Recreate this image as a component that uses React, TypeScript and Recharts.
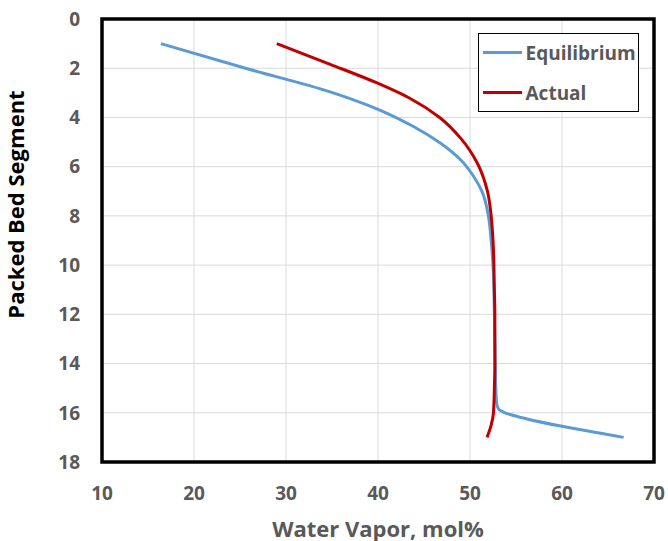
import { LineChart, Line, XAxis, YAxis, CartesianGrid, Legend, ReferenceArea } from 'recharts';

// packed bed segment (y) vs water vapor mol% (x)
const equilibriumSeg = [1, 2, 2.96, 3.67, 4.38, 5.05, 5.73, 6.4, 7, 8, 9, 10, 11, 12, 13, 14, 15, 15.6, 15.85, 16, 16.25, 16.55, 17];
const equilibriumVapor = [16.4, 25.6, 34.8, 40.0, 43.9, 46.8, 49.0, 50.4, 51.3, 52.0, 52.3, 52.5, 52.6, 52.65, 52.7, 52.75, 52.8, 52.9, 53.1, 53.8, 56.2, 60.0, 66.7];

const actualSeg = [1, 1.84, 2.6, 3.23, 4, 4.85, 5.86, 7, 8, 9, 10, 11, 12, 13, 14, 15, 16, 16.5, 17];
const actualVapor = [29.0, 34.8, 39.9, 43.5, 46.7, 49.0, 50.8, 51.9, 52.3, 52.5, 52.6, 52.65, 52.7, 52.7, 52.7, 52.65, 52.55, 52.3, 51.85];

const seriesNames = ['Equilibrium', 'Actual'];
const xTicks = [10, 20, 30, 40, 50, 60, 70];
const yTicks = [0, 2, 4, 6, 8, 10, 12, 14, 16, 18];

const equilibriumData = equilibriumSeg.map((seg, i) => ({ seg, vapor: equilibriumVapor[i] }));
const actualData = actualSeg.map((seg, i) => ({ seg, vapor: actualVapor[i] }));

const FONT = '"Open Sans", sans-serif';
const GRAY = '#595959';

function LegendBox({ payload }: any) {
  const items = [...(payload || [])].sort(
    (a: any, b: any) => seriesNames.indexOf(a.value) - seriesNames.indexOf(b.value)
  );
  return (
    <div style={{ height: '100%', display: 'flex', flexDirection: 'column', justifyContent: 'center', paddingLeft: 3.5 }}>
      {items.map((item: any) => (
        <div key={item.value} style={{ display: 'flex', alignItems: 'center', height: 40, flexShrink: 0 }}>
          <div style={{ width: 39, height: 3, background: item.color, marginRight: 4 }} />
          <span style={{ fontFamily: FONT, fontWeight: 700, fontSize: 19, color: GRAY }}>{item.value}</span>
        </div>
      ))}
    </div>
  );
}

export default function App() {
  return (
    <div style={{ position: 'absolute', left: 0, top: 0, width: 668, height: 541, background: '#fff' }}>
      <LineChart
        width={668}
        height={541}
        layout="vertical"
        margin={{ top: 19, right: 14, bottom: 0, left: 0 }}
      >
        <CartesianGrid stroke="#d9d9d9" strokeWidth={1} />
        <XAxis
          type="number"
          dataKey="vapor"
          domain={[10, 70]}
          ticks={xTicks}
          height={79}
          axisLine={false}
          tickLine={false}
          tickSize={0}
          tickMargin={25}
          tick={{ fill: GRAY, fontFamily: FONT, fontWeight: 700, fontSize: 19 }}
          label={{
            value: 'Water Vapor, mol%',
            position: 'insideBottom',
            offset: 4,
            fill: GRAY,
            fontFamily: FONT,
            fontWeight: 700,
            fontSize: 22,
          }}
        />
        <YAxis
          type="number"
          dataKey="seg"
          domain={[0, 18]}
          ticks={yTicks}
          width={102}
          axisLine={false}
          tickLine={false}
          tickSize={0}
          tickMargin={22}
          tick={{ fill: GRAY, fontFamily: FONT, fontWeight: 700, fontSize: 19 }}
          label={{
            content: ({ viewBox }: any) => {
              const cx = viewBox.x + 24;
              const cy = viewBox.y + viewBox.height / 2 - 36;
              return (
                <text
                  x={cx}
                  y={cy}
                  transform={`rotate(-90, ${cx}, ${cy})`}
                  textAnchor="middle"
                  fill="#000"
                  fontFamily={FONT}
                  fontWeight={700}
                  fontSize={22}
                >
                  Packed Bed Segment
                </text>
              );
            },
          }}
        />
        <Line
          data={equilibriumData}
          name="Equilibrium"
          dataKey="vapor"
          type="monotone"
          stroke="#5B9BD5"
          strokeWidth={3}
          dot={false}
          activeDot={false}
          isAnimationActive={false}
        />
        <Line
          data={actualData}
          name="Actual"
          dataKey="vapor"
          type="monotone"
          stroke="#C00000"
          strokeWidth={3}
          dot={false}
          activeDot={false}
          isAnimationActive={false}
        />
        <ReferenceArea
          x1={10}
          x2={70}
          y1={0}
          y2={18}
          fill="none"
          fillOpacity={0}
          stroke="#000"
          strokeWidth={3.5}
          ifOverflow="visible"
        />
        <Legend
          layout="vertical"
          align="center"
          verticalAlign="middle"
          content={<LegendBox />}
          wrapperStyle={{
            left: 478,
            top: 33,
            width: 161,
            height: 79,
            border: '1.5px solid #000',
            background: '#fff',
            boxSizing: 'border-box',
          }}
        />
      </LineChart>
    </div>
  );
}
